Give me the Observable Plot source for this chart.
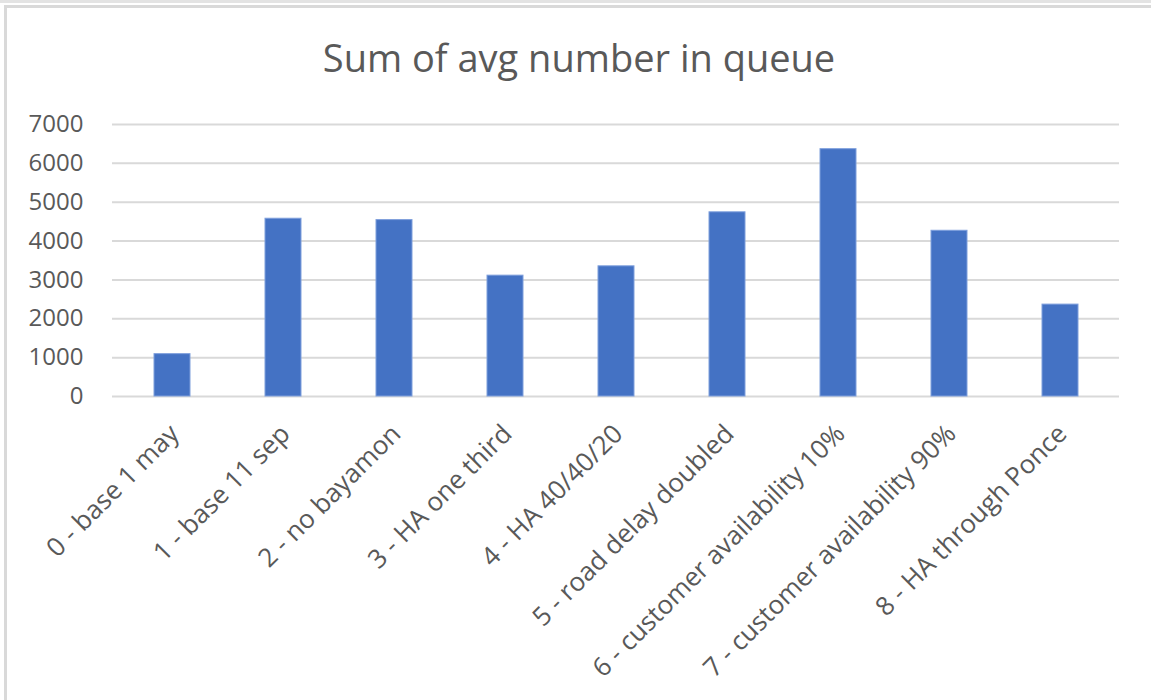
<!DOCTYPE html>
<html>
<head>
<meta charset="utf-8">
<script src="https://cdn.jsdelivr.net/npm/d3@7"></script>
<script src="https://cdn.jsdelivr.net/npm/@observablehq/plot@0.6"></script>
<style>
  html, body { margin: 0; padding: 0; background: #fff; }
  #wrap { position: relative; width: 1151px; height: 700px; overflow: hidden; font-family: "Open Sans", sans-serif; }
  #topstrip { position: absolute; left: 0; top: 0; width: 1151px; height: 3px; background: #e3e3e3; }
  #frame { position: absolute; left: 4px; top: 5px; width: 1160px; height: 710px; border-left: 3px solid #d9d9d9; border-top: 3px solid #d9d9d9; box-sizing: border-box; }
  #title { position: relative; height: 100px; box-sizing: border-box; padding-top: 32px; padding-left: 7px; text-align: center; font-size: 38px; line-height: 1.362; color: #595959; font-weight: 400; }
  #chart { position: relative; }
</style>
</head>
<body>
<div id="wrap">
  <div id="topstrip"></div>
  <div id="frame"></div>
  <div id="title">Sum of avg number in queue</div>
  <div id="chart"></div>
</div>
<script>
const categories = [
  "0 - base 1 may",
  "1 - base 11 sep",
  "2 - no bayamon",
  "3 - HA one third",
  "4 - HA 40/40/20",
  "5 - road delay doubled",
  "6 - customer availability 10%",
  "7 - customer availability 90%",
  "8 - HA through Ponce"
];
const values = [1090, 4575, 4540, 3110, 3350, 4740, 6365, 4265, 2365];
const yTicks = [0, 1000, 2000, 3000, 4000, 5000, 6000, 7000];

const data = categories.map((c, i) => ({category: c, value: values[i]}));

const chart = Plot.plot({
  width: 1151,
  height: 600,
  marginTop: 24,
  marginBottom: 304,
  marginLeft: 112,
  marginRight: 32,
  style: {fontFamily: "'Open Sans', sans-serif", color: "#595959", background: "transparent", overflow: "visible"},
  x: {domain: categories, paddingInner: 0.68, paddingOuter: 0.34, align: 0.5, label: null},
  y: {domain: [0, 7000], label: null},
  marks: [
    Plot.ruleY(yTicks, {stroke: "#d9d9d9", strokeWidth: 2}),
    Plot.barY(data, {x: "category", y: "value", fill: "#4472c4", stroke: "#7e9fdc", strokeWidth: 1}),
    Plot.axisY({ticks: yTicks, tickFormat: d3.format("d"), tickSize: 0, tickPadding: 29, fontSize: 24, fill: "#595959", label: null}),
    Plot.axisX({tickSize: 0, tickRotate: -45, tickPadding: 33, dx: 2, fontSize: 26, fill: "#595959", label: null})
  ]
});
document.getElementById("chart").appendChild(chart);
</script>
</body>
</html>
